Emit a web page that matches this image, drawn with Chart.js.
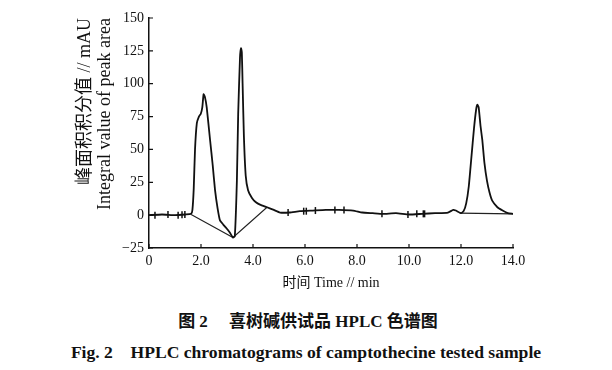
<!DOCTYPE html>
<html>
<head>
<meta charset="utf-8">
<script src="https://cdn.jsdelivr.net/npm/chart.js@4/dist/chart.umd.min.js"></script>
<style>
  html, body { margin: 0; padding: 0; background: #fff; }
  #wrap { position: relative; width: 612px; height: 370px; overflow: hidden; }
  #c { position: absolute; left: 0; top: 0; }
  .cap { position: absolute; left: 0; width: 612px; text-align: center; font-family: "Liberation Serif", "Noto Sans CJK SC", serif; font-weight: bold; color: #111; white-space: pre; line-height: 20px; }
  #cap1 { top: 312px; font-size: 17px; left: 2px; }
  #cap2 { top: 342px; font-size: 17.6px; left: 0px; }
</style>
</head>
<body>
<div id="wrap">
  <canvas id="c" width="612" height="300"></canvas>
  <div class="cap" id="cap1">图 2　 喜树碱供试品 HPLC 色谱图</div>
  <div class="cap" id="cap2">Fig. 2    HPLC chromatograms of camptothecine tested sample</div>
</div>
<script>
// Chromatogram trace (time in min, signal in mAU)
const traceTime = [0, 0.5, 1.0, 1.4, 1.62, 1.67, 1.72, 1.77, 1.84, 1.92, 1.99, 2.05, 2.1, 2.15, 2.22, 2.35, 2.45, 2.54, 2.64, 2.73, 2.85, 2.98, 3.1, 3.23, 3.3, 3.38, 3.43, 3.5, 3.54, 3.57, 3.6, 3.65, 3.72, 3.81, 3.96, 4.1, 4.27, 4.54, 4.8, 5.04, 5.4, 5.8, 6.3, 6.8, 7.3, 7.85, 8.2, 8.6, 9.0, 9.5, 10.0, 10.5, 11.0, 11.5, 11.7, 11.8, 12.0, 12.1, 12.2, 12.3, 12.4, 12.5, 12.58, 12.63, 12.68, 12.75, 12.82, 12.9, 13.0, 13.1, 13.2, 13.4, 13.6, 13.8, 14.0];
const traceSignal = [0, 0.5, 0, 0.5, 1, 4, 20, 50, 70, 75, 77, 82, 92, 90, 82, 57, 38, 19, 5, -4, -7, -10, -13, -17, -16, 26, 77, 120, 127, 124, 100, 60, 30, 19, 13, 10, 8, 6, 4, 2, 2, 3, 3.5, 4, 4, 3.5, 2, 1.5, 1, 1.5, 0.5, 1, 1.5, 2, 4, 3.5, 1.5, 3, 9, 22, 44, 66, 80, 84, 82, 68, 57, 40, 26, 17, 11, 6, 3.5, 1.5, 1];

// Integration baselines drawn under the peaks
const baseATime = [1.62, 3.23, 4.54];
const baseASignal = [0.5, -17, 6];
const baseBTime = [11.95, 14.0];
const baseBSignal = [1.5, 1];

// Event markers on the baseline
const markTime = [0.23, 0.73, 1.12, 1.27, 1.38, 5.35, 5.95, 6.05, 6.4, 7.15, 7.5, 8.96, 9.96, 10.3, 10.55, 10.6];
const markSignal = [0, 0.5, 0, 0.3, 0.5, 2, 3, 3, 3.5, 4, 4, 1, 0.5, 1, 1, 1];

// Axis ticks
const xTickLabels = ['0', '2.0', '4.0', '6.0', '8.0', '10.0', '12.0', '14.0'];
const yTickValues = [-25, 0, 25, 50, 75, 100, 125, 150];
const yTickLabels = ['\u221225', '0', '25', '50', '75', '100', '125', '150'];

const toPts = (xs, ys) => xs.map((x, i) => ({ x: x, y: ys[i] }));

const inwardTicks = {
  id: 'inwardTicks',
  afterDraw(chart) {
    const { ctx, scales: { x, y }, chartArea } = chart;
    ctx.save();
    ctx.strokeStyle = '#111';
    ctx.lineWidth = 1.2;
    ctx.beginPath();
    for (let i = 0; i < xTickLabels.length; i++) {
      const px = x.getPixelForValue(i * 2);
      ctx.moveTo(px, chartArea.bottom);
      ctx.lineTo(px, chartArea.bottom - 4);
    }
    yTickValues.forEach(v => {
      const py = y.getPixelForValue(v);
      ctx.moveTo(chartArea.left, py);
      ctx.lineTo(chartArea.left + 4, py);
    });
    ctx.stroke();
    ctx.restore();
  }
};

const fontFam = '"Liberation Serif", "Noto Sans CJK SC", serif';

new Chart(document.getElementById('c'), {
  type: 'line',
  data: {
    datasets: [
      { data: toPts(traceTime, traceSignal), borderColor: '#111', borderWidth: 1.8, pointRadius: 0, tension: 0.15, fill: false },
      { data: toPts(baseATime, baseASignal), borderColor: '#222', borderWidth: 1.1, pointRadius: 0, tension: 0, fill: false },
      { data: toPts(baseBTime, baseBSignal), borderColor: '#222', borderWidth: 1.1, pointRadius: 0, tension: 0, fill: false },
      { data: toPts(markTime, markSignal), showLine: false, pointStyle: 'line', rotation: 90, pointRadius: 3.5, borderColor: '#111', borderWidth: 1.5 }
    ]
  },
  options: {
    responsive: false,
    animation: false,
    events: [],
    layout: { padding: { top: 18, right: 99, left: 0, bottom: 0 } },
    plugins: { legend: { display: false }, tooltip: { enabled: false } },
    scales: {
      x: {
        type: 'linear', min: 0, max: 14,
        grid: { display: false, drawTicks: false },
        border: { display: true, color: '#111', width: 1.5 },
        ticks: { stepSize: 2, padding: 5, color: '#111', font: { family: fontFam, size: 14 },
          callback: (v) => xTickLabels[Math.round(v / 2)] },
        title: { display: true, text: '时间 Time // min', color: '#111', font: { family: fontFam, size: 14 }, padding: { top: 0, bottom: 8 } },
        afterFit: (s) => { s.height = 52; }
      },
      y: {
        min: -25, max: 150,
        grid: { display: false, drawTicks: false },
        border: { display: true, color: '#111', width: 1.5 },
        ticks: { stepSize: 25, padding: 5, color: '#111', font: { family: fontFam, size: 14 },
          callback: (v) => yTickLabels[yTickValues.indexOf(v)] },
        title: { display: true, align: 'end', text: ['峰面积积分值 // mAU', 'Integral value of peak area'], color: '#111', font: { family: fontFam, size: 18, lineHeight: 1.12 }, padding: { top: 75, bottom: 0 } },
        afterFit: (s) => { s.width = 149; }
      }
    }
  },
  plugins: [inwardTicks]
});
</script>
</body>
</html>
